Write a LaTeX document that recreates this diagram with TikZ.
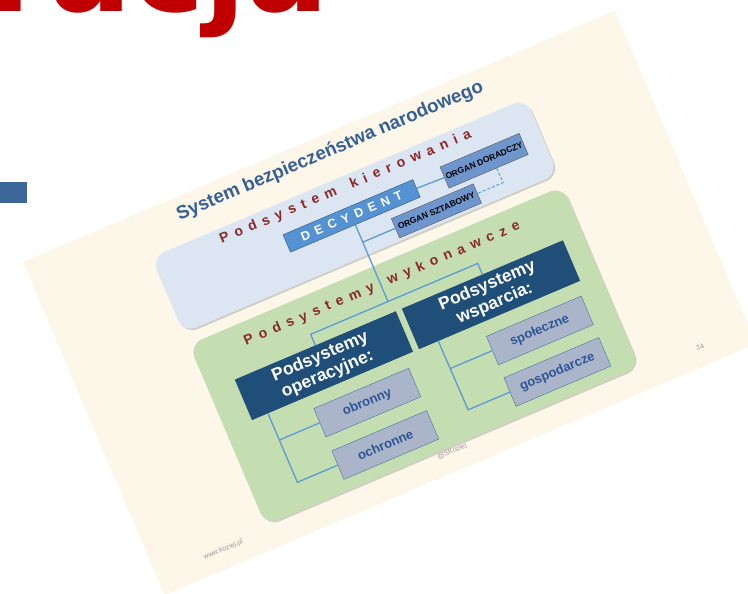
\documentclass[tikz,border=0pt]{standalone}
\usepackage{fontspec}
\setmainfont{Liberation Sans}
\newfontfamily\spaced{Liberation Sans}[LetterSpace=46]
\newfontfamily\bigfont{DejaVu Sans}
\usepackage{tikz}
\usetikzlibrary{positioning, calc, shadows}
\usepackage{xcolor}
\definecolor{slidebg}{RGB}{253,247,233}
\definecolor{kierfill}{RGB}{220,230,242}
\definecolor{wykfill}{RGB}{196,222,178}
\definecolor{decfill}{RGB}{84,146,210}
\definecolor{orgfill}{RGB}{110,150,205}
\definecolor{headfill}{RGB}{31,78,121}
\definecolor{subfill}{RGB}{170,181,202}
\definecolor{linkblue}{RGB}{91,155,213}
\definecolor{titleblue}{RGB}{54,96,150}
\definecolor{spacedred}{RGB}{140,40,40}
\definecolor{subtext}{RGB}{47,85,151}
\definecolor{bigred}{RGB}{192,0,0}
\definecolor{sideblue}{RGB}{60,101,152}

\begin{document}
\begin{tikzpicture}[x=1pt, y=1pt,
	panel/.style={rounded corners=14pt, inner sep=0pt,
		drop shadow={shadow xshift=1.5pt, shadow yshift=-1.5pt, opacity=.35}},
	decbox/.style={draw=decfill!60!black, fill=decfill, text=white, inner sep=0pt,
		minimum width=141pt, minimum height=19pt, font=\spaced\bfseries\fontsize{12.5}{14}\selectfont},
	orgbox/.style={draw=black!65, fill=orgfill, inner sep=0pt,
		font=\bfseries\fontsize{8.6}{10}\selectfont},
	head/.style={fill=headfill, text=white, align=center, inner sep=0pt,
		minimum width=175pt, minimum height=44pt, font=\bfseries\fontsize{17.5}{19}\selectfont},
	sub/.style={draw=linkblue!75!black, fill=subfill, text=subtext, inner sep=0pt,
		minimum width=103pt, minimum height=31pt, font=\bfseries\fontsize{13}{15}\selectfont},
	link/.style={draw=linkblue, line width=1.3pt},
	spacedlbl/.style={text=spacedred, inner sep=0pt, font=\spaced\bfseries\fontsize{14}{16}\selectfont},
	note/.style={text=black!40, inner sep=0pt, font=\fontsize{7}{8}\selectfont}]
	\useasboundingbox (0,0) rectangle (748,594);
	\clip (0,0) rectangle (748,594);
	% tlo poza slajdem
	\node[text=bigred, anchor=base east, inner sep=0pt,
		font=\bigfont\bfseries\fontsize{122}{122}\selectfont] (big) at (329,582) {racja};
	\node[fill=sideblue, minimum width=27pt, minimum height=21pt, inner sep=0pt,
		anchor=south west] (side) at (0,391) {};
	% obrocony slajd
	\begin{scope}[shift={(23,332)}, rotate=23, transform shape, y=-1pt]
		\fill[slidebg] (0,0) rectangle (643,362);
		\node[panel, fill=kierfill, minimum width=407pt, minimum height=82pt] (kier) at (323.5,87) {};
		\node[panel, fill=wykfill, minimum width=406pt, minimum height=196pt] (wyk) at (323.5,239) {};
		\node[text=titleblue, anchor=base, inner sep=0pt,
			font=\bfseries\fontsize{18.8}{20}\selectfont] (ttl) at (326,23) {System bezpieczeństwa narodowego};
		\node[spacedlbl, anchor=base] (lkier) at (326,61) {Podsystem\hspace{5pt} kierowania};
		\node[spacedlbl, anchor=base] (lwyk) at (322,164) {Podsystemy\hspace{5pt} wykonawcze};
		% kierowanie
		\node[decbox] (dec) at (320.5,86) {DECYDENT};
		\node[orgbox, minimum width=86pt, minimum height=23pt] (dor) at (464,87) {ORGAN DORADCZY};
		\node[orgbox, minimum width=89pt, minimum height=21pt] (szt) at (400.5,114.5) {ORGAN SZTABOWY};
		% wykonanie
		\node[head] (opr) at (236.5,213) {Podsystemy\\operacyjne:};
		\node[head] (wsp) at (418,213) {Podsystemy\\wsparcia:};
		\node[sub] (obr) at (262,264) {obronny};
		\node[sub] (och) at (262,310) {ochronne};
		\node[sub] (spo) at (449,265) {społeczne};
		\node[sub] (gos) at (449,310) {gospodarcze};
		% polaczenia
		\coordinate (jszt) at (320.5,114.5);
		\coordinate (jbar) at (320.5,179);
		\coordinate (barl) at (236.5,179);
		\coordinate (barr) at (418,179);
		\coordinate (dcor) at (473,114.5);
		\coordinate (o1) at (166.5,264);
		\coordinate (o2) at (166.5,310);
		\coordinate (w1) at (352,265);
		\coordinate (w2) at (352,310);
		\draw[link] (dec.south) -- (jbar);
		\draw[link] (jszt) -- (szt.west);
		\draw[link] (dec.east) -- (dor.west);
		\draw[link] (opr.north) -- (barl) -- (barr) -- (wsp.north);
		\draw[link, line width=1pt, dash pattern=on 3pt off 2pt]
			($(dor.south west)!.6!(dor.south east)$) -- (dcor) -- (szt.east);
		\draw[link] ($(opr.south west)!.1!(opr.south east)$) -- (o2) -- (och.west);
		\draw[link] (o1) -- (obr.west);
		\draw[link] ($(wsp.south west)!.12!(wsp.south east)$) -- (w2) -- (gos.west);
		\draw[link] (w1) -- (spo.west);
		% stopka
		\node[note] (web) at (72,343) {www.koziej.pl};
		\node[note] (pg) at (590,343) {24};
		\node[note] (sig) at (321,342) {@SKoziej};
	\end{scope}
\end{tikzpicture}
\end{document}
